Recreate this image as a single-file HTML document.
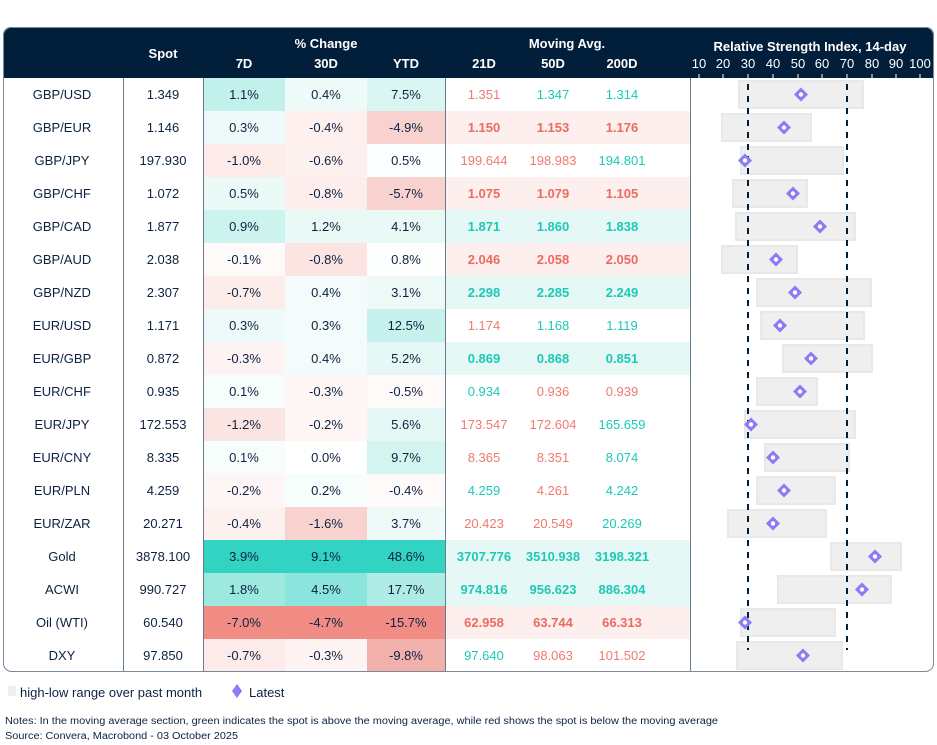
<!DOCTYPE html>
<html><head><meta charset="utf-8"><style>
html,body{margin:0;padding:0;background:#fff;}
svg{display:block;font-family:"Liberation Sans",sans-serif;}
</style></head><body>
<svg width="937" height="745" viewBox="0 0 937 745" xmlns="http://www.w3.org/2000/svg">
<defs><clipPath id="c"><rect x="3" y="27" width="931" height="645" rx="8"/></clipPath></defs>
<g clip-path="url(#c)">
<rect x="3" y="27" width="931" height="645" fill="#fff"/>
<rect x="3" y="27" width="931" height="51" fill="#011f3b"/>
<!-- cell backgrounds -->
<g id="cells"></g>
</g>
<g font-size="13" font-weight="bold" fill="#fff" text-anchor="middle">
<text x="163" y="58">Spot</text>
<text x="326" y="48">% Change</text>
<text x="244" y="68">7D</text><text x="326" y="68">30D</text><text x="406" y="68">YTD</text>
<text x="567" y="48">Moving Avg.</text>
<text x="484" y="68">21D</text><text x="553" y="68">50D</text><text x="622" y="68">200D</text>
<text x="810" y="51">Relative Strength Index, 14-day</text>
</g>
<g font-size="13" fill="#fff" text-anchor="middle">
<text x="699" y="68">10</text><text x="723" y="68">20</text><text x="748" y="68">30</text><text x="773" y="68">40</text><text x="798" y="68">50</text><text x="822" y="68">60</text><text x="847" y="68">70</text><text x="872" y="68">80</text><text x="896" y="68">90</text><text x="920" y="68">100</text>
</g>
<g stroke="#fff" stroke-width="1">
<line x1="699" y1="74" x2="699" y2="78"/><line x1="723" y1="74" x2="723" y2="78"/><line x1="748" y1="74" x2="748" y2="78"/><line x1="773" y1="74" x2="773" y2="78"/><line x1="798" y1="74" x2="798" y2="78"/><line x1="822" y1="74" x2="822" y2="78"/><line x1="847" y1="74" x2="847" y2="78"/><line x1="872" y1="74" x2="872" y2="78"/><line x1="896" y1="74" x2="896" y2="78"/><line x1="920" y1="74" x2="920" y2="78"/>
</g>
<g id="rows"></g>
<g stroke="#6b7b8b" stroke-width="1">
<line x1="123.5" y1="78" x2="123.5" y2="672"/><line x1="203.5" y1="78" x2="203.5" y2="672"/><line x1="445.5" y1="78" x2="445.5" y2="672"/><line x1="690.5" y1="78" x2="690.5" y2="672"/>
</g>
<rect x="3.5" y="27.5" width="930" height="644" rx="8" fill="none" stroke="#7a8a9a"/>
<g stroke="#011f3b" stroke-width="2" stroke-dasharray="6,6">
<line x1="748" y1="84" x2="748" y2="650"/><line x1="847" y1="84" x2="847" y2="650"/>
</g>
<g id="dia"></g>
<rect x="8" y="686" width="8" height="10" fill="#eeeeee"/>
<text x="20" y="697" font-size="13" fill="#0d2240">high-low range over past month</text>
<path d="M237 684 L242 691 L237 698 L232 691Z" fill="#8b7cf6"/>
<text x="249" y="697" font-size="13" fill="#0d2240">Latest</text>
<text x="5" y="724" font-size="10" fill="#0d2240" textLength="713" lengthAdjust="spacingAndGlyphs">Notes: In the moving average section, green indicates the spot is above the moving average, while red shows the spot is below the moving average</text>
<text x="5" y="739" font-size="10" fill="#0d2240" textLength="233" lengthAdjust="spacingAndGlyphs">Source: Convera, Macrobond - 03 October 2025</text>
</svg>
<script>
var R=[
["GBP/USD","1.349",["1.1%","#c2f1eb"],["0.4%","#effbf9"],["7.5%","#dbf6f2"],["1.351","r","1.347","g","1.314","g"],0,739,863,801],
["GBP/EUR","1.146",["0.3%","#eefaf9"],["-0.4%","#fdf0ef"],["-4.9%","#f8d2ce"],["1.150","r","1.153","r","1.176","r"],1,722,811,784],
["GBP/JPY","197.930",["-1.0%","#fcebe9"],["-0.6%","#fdf1f0"],["0.5%","#fbfefe"],["199.644","r","198.983","r","194.801","g"],0,741,843,745],
["GBP/CHF","1.072",["0.5%","#ebf9f7"],["-0.8%","#fdeeed"],["-5.7%","#f8d2ce"],["1.075","r","1.079","r","1.105","r"],1,733,807,793],
["GBP/CAD","1.877",["0.9%","#cdf3ee"],["1.2%","#e9f9f6"],["4.1%","#e9f9f6"],["1.871","g","1.860","g","1.838","g"],1,736,855,820],
["GBP/AUD","2.038",["-0.1%","#fefafa"],["-0.8%","#fbe4e2"],["0.8%","#fdfffe"],["2.046","r","2.058","r","2.050","r"],1,722,797,776],
["GBP/NZD","2.307",["-0.7%","#fcedeb"],["0.4%","#f3fcfa"],["3.1%","#eefaf8"],["2.298","g","2.285","g","2.249","g"],1,757,871,795],
["EUR/USD","1.171",["0.3%","#eefaf9"],["0.3%","#f3fcfa"],["12.5%","#c6f1ec"],["1.174","r","1.168","g","1.119","g"],0,761,864,780],
["EUR/GBP","0.872",["-0.3%","#fdf3f2"],["0.4%","#f3fcfa"],["5.2%","#e5f8f5"],["0.869","g","0.868","g","0.851","g"],1,783,872,811],
["EUR/CHF","0.935",["0.1%","#f6fdfb"],["-0.3%","#fdf6f5"],["-0.5%","#fefafa"],["0.934","g","0.936","r","0.939","r"],0,757,817,800],
["EUR/JPY","172.553",["-1.2%","#fbe5e3"],["-0.2%","#fdf6f5"],["5.6%","#e5f8f5"],["173.547","r","172.604","r","165.659","g"],0,745,855,751],
["EUR/CNY","8.335",["0.1%","#f6fdfb"],["0.0%","#ffffff"],["9.7%","#d4f4f0"],["8.365","r","8.351","r","8.074","g"],0,765,849,773],
["EUR/PLN","4.259",["-0.2%","#fef6f6"],["0.2%","#f6fdfb"],["-0.4%","#fefafa"],["4.259","g","4.261","r","4.242","g"],0,757,835,784],
["EUR/ZAR","20.271",["-0.4%","#fdf1f0"],["-1.6%","#f8d2ce"],["3.7%","#eefaf8"],["20.423","r","20.549","r","20.269","g"],0,728,826,773],
["Gold","3878.100",["3.9%","#33d3c3"],["9.1%","#33d3c3"],["48.6%","#33d3c3"],["3707.776","g","3510.938","g","3198.321","g"],1,831,901,875],
["ACWI","990.727",["1.8%","#9de9e0"],["4.5%","#8ce5dc"],["17.7%","#aeece5"],["974.816","g","956.623","g","886.304","g"],1,778,891,862],
["Oil (WTI)","60.540",["-7.0%","#f08c84"],["-4.7%","#f08c84"],["-15.7%","#f08c84"],["62.958","r","63.744","r","66.313","r"],1,741,835,745],
["DXY","97.850",["-0.7%","#fcebe9"],["-0.3%","#fdf4f3"],["-9.8%","#f2b0aa"],["97.640","g","98.063","r","101.502","r"],0,737,842,803]
];
var cells="",rows="",dia="";
for(var i=0;i<R.length;i++){var r=R[i],y=78+i*33,cy=y+21;
var cx=[[203,82,244],[285,82,326],[367,78,406]];
for(var k=0;k<3;k++){cells+='<rect x="'+cx[k][0]+'" y="'+y+'" width="'+cx[k][1]+'" height="33" fill="'+r[2+k][1]+'"/>';
rows+='<text x="'+cx[k][2]+'" y="'+cy+'" font-size="13" fill="#0d2240" text-anchor="middle">'+r[2+k][0]+'</text>';}
var m=r[5],b=r[6];
if(b){cells+='<rect x="445" y="'+y+'" width="245" height="33" fill="'+(m[1]=="g"?"#e6f8f5":"#fcefed")+'"/>';}
var mx=[484,553,622];
for(var k=0;k<3;k++){var col=m[2*k+1]=="g"?"#1cc9b6":(b?"#ec6b61":"#f07a70");
rows+='<text x="'+mx[k]+'" y="'+cy+'" font-size="13" '+(b?'font-weight="bold" ':'')+'fill="'+col+'" text-anchor="middle">'+m[2*k]+'</text>';}
rows+='<text x="62" y="'+cy+'" font-size="13" fill="#0d2240" text-anchor="middle">'+r[0]+'</text>';
rows+='<text x="163" y="'+cy+'" font-size="13" fill="#0d2240" text-anchor="middle">'+r[1]+'</text>';
cells+='<rect x="'+r[7]+'" y="'+(y+3)+'" width="'+(r[8]-r[7])+'" height="27" fill="#efefef" stroke="#e8e8e8" stroke-width="2"/>';
var dx=r[9],dy=y+16.5;
dia+='<path d="M'+dx+' '+(dy-7)+' L'+(dx+7)+' '+dy+' L'+dx+' '+(dy+7)+' L'+(dx-7)+' '+dy+'Z" fill="#8b7cf6"/><circle cx="'+dx+'" cy="'+dy+'" r="2.2" fill="#fff"/>';
}
document.getElementById("cells").innerHTML=cells;
document.getElementById("rows").innerHTML=rows;
document.getElementById("dia").innerHTML=dia;
</script>
</body></html>
